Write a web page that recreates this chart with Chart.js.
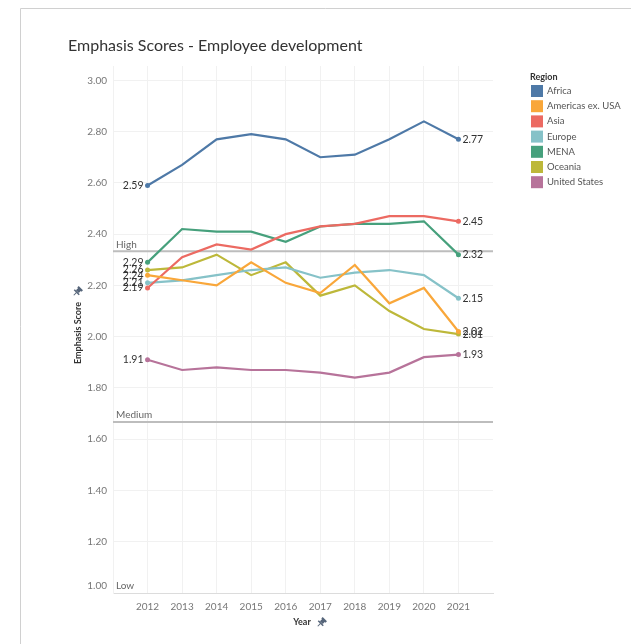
<!DOCTYPE html>
<html lang="en">
<head>
    <meta charset="UTF-8">
    <title>Emphasis Scores - Employee development</title>
    <script src="https://cdn.jsdelivr.net/npm/chart.js"></script>
    <style>
        body { margin: 0; background: #fff; }
        #wrap { position: relative; width: 631px; height: 644px; }
    </style>
</head>
<body>
    <div id="wrap"><canvas id="scoreChart" width="631" height="644"></canvas></div>

    <script>
        // Chart values
        const years = [2012, 2013, 2014, 2015, 2016, 2017, 2018, 2019, 2020, 2021];
        const regions = ['Africa', 'Americas ex. USA', 'Asia', 'Europe', 'MENA', 'Oceania', 'United States'];
        const africa   = [2.59, 2.67, 2.77, 2.79, 2.77, 2.70, 2.71, 2.77, 2.84, 2.77];
        const americas = [2.24, 2.22, 2.20, 2.29, 2.21, 2.17, 2.28, 2.13, 2.19, 2.02];
        const asia     = [2.19, 2.31, 2.36, 2.34, 2.40, 2.43, 2.44, 2.47, 2.47, 2.45];
        const europe   = [2.21, 2.22, 2.24, 2.26, 2.27, 2.23, 2.25, 2.26, 2.24, 2.15];
        const mena     = [2.29, 2.42, 2.41, 2.41, 2.37, 2.43, 2.44, 2.44, 2.45, 2.32];
        const oceania  = [2.26, 2.27, 2.32, 2.24, 2.29, 2.16, 2.20, 2.10, 2.03, 2.01];
        const usa      = [1.91, 1.87, 1.88, 1.87, 1.87, 1.86, 1.84, 1.86, 1.92, 1.93];
        const colors = ['#4e79a7', '#f9a73a', '#ec6a62', '#86c2c8', '#46a07c', '#bdb83a', '#b7739a'];
        const yTicks = [1.00, 1.20, 1.40, 1.60, 1.80, 2.00, 2.20, 2.40, 2.60, 2.80, 3.00];
        const refLines = [
            { label: 'High', value: 2.333 },
            { label: 'Medium', value: 1.667 },
            { label: 'Low', value: 1.00 }
        ];

        const series = [africa, americas, asia, europe, mena, oceania, usa];
        const FONT = 'Lato, "Open Sans", sans-serif';

        const datasets = series.map((vals, i) => ({
            label: regions[i],
            data: vals.map((v, j) => ({ x: years[j], y: v })),
            borderColor: colors[i],
            backgroundColor: colors[i],
            borderWidth: 2.2,
            tension: 0,
            pointRadius: ctx => (ctx.dataIndex === 0 || ctx.dataIndex === vals.length - 1) ? 2.5 : 0,
            pointHoverRadius: 3,
            pointBorderWidth: 0
        }));

        // small pushpin glyph like the one next to axis titles
        function drawPin(ctx, x, y) {
            ctx.save();
            ctx.translate(x, y);
            ctx.rotate(Math.PI / 4);
            ctx.fillStyle = '#56657a';
            ctx.strokeStyle = '#56657a';
            ctx.fillRect(-3, -4, 6, 2);
            ctx.fillRect(-2, -3, 4, 4);
            ctx.fillRect(-3.5, 1, 7, 1.5);
            ctx.lineWidth = 1;
            ctx.beginPath();
            ctx.moveTo(0, 2);
            ctx.lineTo(0, 6);
            ctx.stroke();
            ctx.restore();
        }

        const decorations = {
            id: 'decorations',
            beforeDatasetsDraw(chart) {
                const { ctx, chartArea, scales } = chart;
                ctx.save();
                // reference lines (High / Medium / Low)
                refLines.forEach(r => {
                    const y = scales.y.getPixelForValue(r.value);
                    if (r.label !== 'Low') {
                        ctx.strokeStyle = '#bdbdbd';
                        ctx.lineWidth = 2;
                        ctx.beginPath();
                        ctx.moveTo(chartArea.left, y);
                        ctx.lineTo(chartArea.right, y);
                        ctx.stroke();
                    }
                    ctx.fillStyle = '#666';
                    ctx.font = '10px ' + FONT;
                    ctx.textAlign = 'left';
                    ctx.textBaseline = 'bottom';
                    ctx.fillText(r.label, chartArea.left + 3, y - 2);
                });
                // bottom tick label sits just above the axis line
                ctx.fillStyle = '#777';
                ctx.textAlign = 'right';
                ctx.textBaseline = 'middle';
                ctx.fillText(yTicks[0].toFixed(2), chartArea.left - 6, scales.y.getPixelForValue(yTicks[0]) - 7);
                ctx.restore();
            },
            afterDraw(chart) {
                const { ctx } = chart;
                ctx.save();
                // frame
                ctx.strokeStyle = '#d0d0d0';
                ctx.lineWidth = 1;
                ctx.beginPath();
                ctx.moveTo(20.5, 644);
                ctx.lineTo(20.5, 8.5);
                ctx.lineTo(631, 8.5);
                ctx.stroke();

                // title
                ctx.fillStyle = '#333';
                ctx.font = '16px ' + FONT;
                ctx.textAlign = 'left';
                ctx.textBaseline = 'middle';
                ctx.fillText('Emphasis Scores - Employee development', 68, 46);

                // end labels
                ctx.font = '10.5px ' + FONT;
                ctx.fillStyle = '#333';
                chart.data.datasets.forEach((ds, i) => {
                    const meta = chart.getDatasetMeta(i);
                    const first = meta.data[0];
                    const last = meta.data[meta.data.length - 1];
                    ctx.textAlign = 'right';
                    ctx.fillText(series[i][0].toFixed(2), first.x - 4, first.y);
                    ctx.textAlign = 'left';
                    ctx.fillText(series[i][series[i].length - 1].toFixed(2), last.x + 4, last.y);
                });

                // axis titles
                ctx.font = 'bold 9px ' + FONT;
                ctx.fillStyle = '#333';
                ctx.textAlign = 'center';
                ctx.fillText('Year', 302, 622);
                drawPin(ctx, 322, 622);
                ctx.save();
                ctx.translate(78, 333);
                ctx.rotate(-Math.PI / 2);
                ctx.fillText('Emphasis Score', 0, 0);
                ctx.restore();
                drawPin(ctx, 78, 291);

                // legend
                ctx.textAlign = 'left';
                ctx.font = 'bold 9px ' + FONT;
                ctx.fillStyle = '#333';
                ctx.fillText('Region', 530, 77);
                ctx.font = '9.5px ' + FONT;
                regions.forEach((name, i) => {
                    const y = 91 + i * 15.2;
                    ctx.fillStyle = colors[i];
                    ctx.fillRect(531, y - 6, 12, 12);
                    ctx.fillStyle = '#555';
                    ctx.fillText(name, 547, y);
                });
                ctx.restore();
            }
        };

        const ctx = document.getElementById('scoreChart').getContext('2d');
        new Chart(ctx, {
            type: 'line',
            data: { datasets: datasets },
            options: {
                responsive: false,
                animation: false,
                layout: { padding: { left: 0, right: 138, top: 66, bottom: 0 } },
                plugins: {
                    legend: { display: false },
                    title: { display: false },
                    tooltip: { enabled: true }
                },
                scales: {
                    x: {
                        type: 'linear',
                        min: 2011,
                        max: 2022,
                        afterBuildTicks: scale => { scale.ticks = years.map(v => ({ value: v })); },
                        afterFit: scale => { scale.height = 51; },
                        grid: { color: '#f1f1f1', drawTicks: false },
                        border: { color: '#dcdcdc', width: 1 },
                        ticks: {
                            padding: 8,
                            color: '#777',
                            font: { family: FONT, size: 10 },
                            callback: v => String(v)
                        }
                    },
                    y: {
                        min: 1.0,
                        max: 3.056,
                        afterBuildTicks: scale => { scale.ticks = yTicks.map(v => ({ value: v })); },
                        afterFit: scale => { scale.width = 113; },
                        grid: { color: '#f1f1f1', drawTicks: false },
                        border: { color: '#f1f1f1' },
                        ticks: {
                            padding: 6,
                            color: '#777',
                            font: { family: FONT, size: 10 },
                            callback: v => v === yTicks[0] ? '' : v.toFixed(2)
                        }
                    }
                }
            },
            plugins: [decorations]
        });
    </script>
</body>
</html>
